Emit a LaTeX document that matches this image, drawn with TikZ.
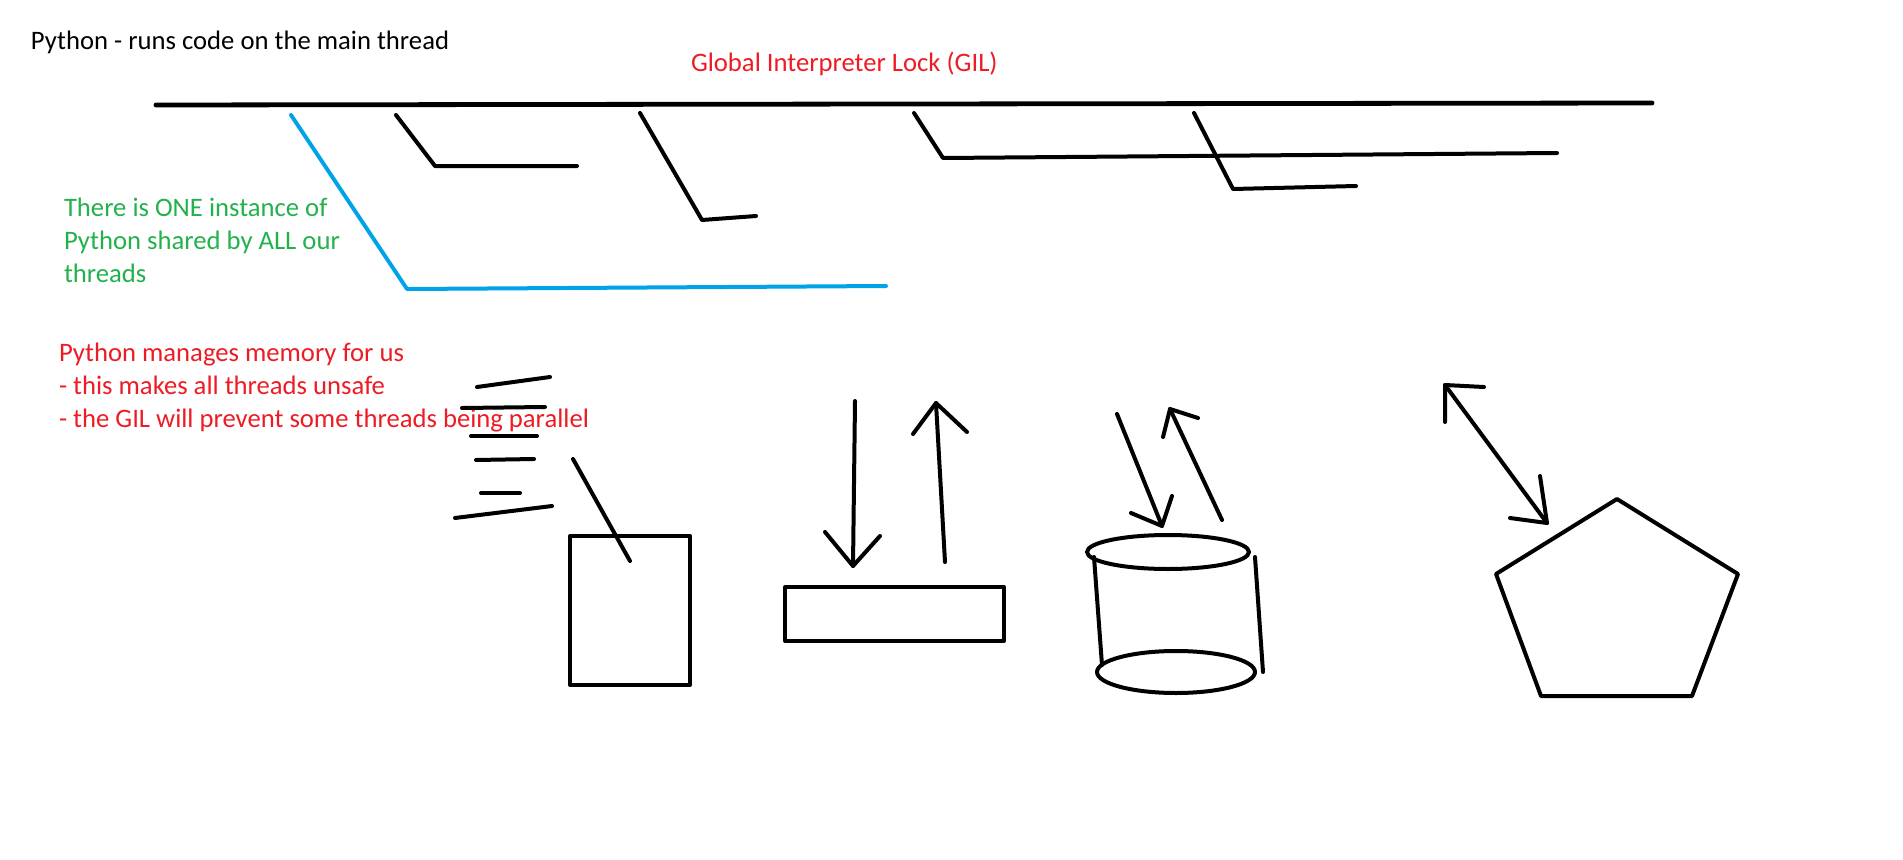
\documentclass[tikz,border=0pt]{standalone}
\usepackage{fontspec}
\setmainfont{Carlito}
\usetikzlibrary{positioning,calc}

\definecolor{paintred}{RGB}{237,28,36}
\definecolor{paintgreen}{RGB}{34,177,76}
\definecolor{paintblue}{RGB}{0,162,232}

\begin{document}
\begin{tikzpicture}[x=0.75pt,y=-0.75pt,line width=3pt,line cap=round,line join=round,
	txt/.style={anchor=base west,inner sep=0pt,align=left,font=\fontsize{20}{24.75}\selectfont}]
\useasboundingbox (0,0) rectangle (1903,860);

% texts (base = last line)
\node[txt] (title) at (29,49) {Python - runs code on the main thread};
\node[txt,color=paintred] (gil) at (689,71) {Global Interpreter Lock (GIL)};
\node[txt,color=paintgreen] (one) at (62,282) {There is ONE instance of\\Python shared by ALL our\\threads};
\node[txt,color=paintred] (mem) at (57,427) {Python manages memory for us\\- this makes all threads unsafe\\- the GIL will prevent some threads being parallel};

% the GIL and the threads hanging from it
\coordinate (g1) at (156,105);
\coordinate (g2) at (1652,103);
\draw[line width=3.6pt](g1)--(g2);

\draw[paintblue](291,115)--(407,289)--(886,286);

\foreach \xa/\ya/\xb/\yb/\xc/\yc in {396/115/435/166/577/166,640/113/702/220/756/216,914/113/943/158/1557/153,1194/113/1233/189/1356/186}
	\draw(\xa,\ya)--(\xb,\yb)--(\xc,\yc);

% speed lines and the box
\foreach \xa/\ya/\xb/\yb in {477/387/550/377,462/408/545/407,471/436/537/436,476/460/534/459,481/493/520/493,455/518/552/506}
	\draw(\xa,\ya)--(\xb,\yb);
\draw(573,459)--(630,561);
\draw(570,536)rectangle(690,685);

% flat box with arrows
\draw(785,587)rectangle(1004,641);
\coordinate (d1) at (855,401);
\coordinate (d2) at (853,566);
\draw(d1)--(d2);
\draw(825,532)--(d2)--(880,536);
\coordinate (u1) at (945,562);
\coordinate (u2) at (936,403);
\draw(u1)--(u2);
\draw(913,434)--(u2)--(967,432);

% cylinder
\draw(1168,552)ellipse[x radius=81,y radius=17];
\draw(1176,672)ellipse[x radius=79,y radius=21];
\draw(1094,557)--(1102,665);
\draw(1255,557)--(1263,672);
\coordinate (cd1) at (1117,414);
\coordinate (cd2) at (1162,526);
\draw(cd1)--(cd2);
\draw(1131,513)--(cd2)--(1172,496);
\coordinate (cu1) at (1222,520);
\coordinate (cu2) at (1170,409);
\draw(cu1)--(cu2);
\draw(1163,437)--(cu2)--(1198,418);

% pentagon
\draw(1617,499)--(1738,574)--(1692,696)--(1541,696)--(1496,574)--cycle;
\coordinate (p1) at (1445,385);
\coordinate (p2) at (1547,523);
\draw(p1)--(p2);
\draw(1484,387)--(p1)--(1445,422);
\draw(1540,476)--(p2)--(1510,518);
\end{tikzpicture}
\end{document}
